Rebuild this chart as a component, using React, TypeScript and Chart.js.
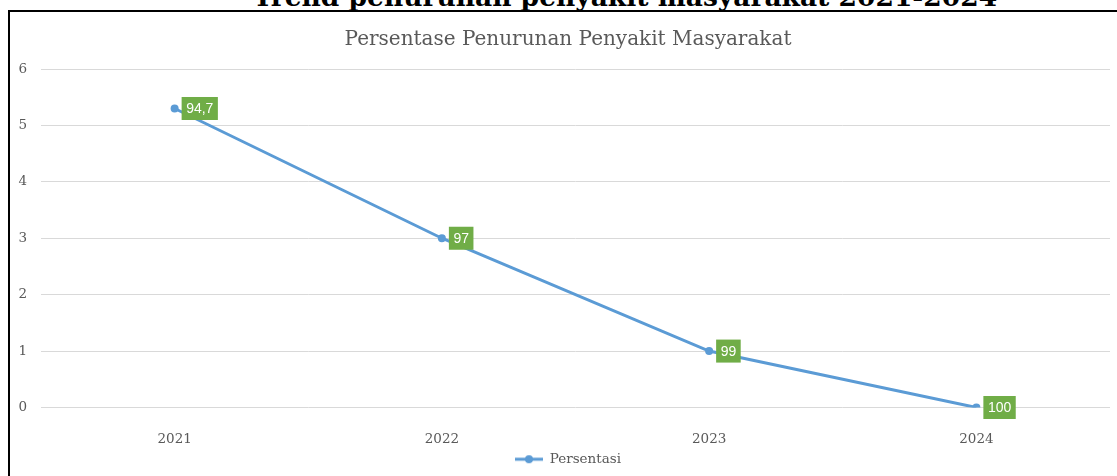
import React, { useEffect, useRef } from "react";
import { Chart, registerables } from "chart.js";

Chart.register(...registerables);

const categories = ["2021", "2022", "2023", "2024"];
const seriesValues = [5.3, 3, 1, 0];
const pointLabels = ["94,7", "97", "99", "100"];
const yTicks = [0, 1, 2, 3, 4, 5, 6];

const labelBoxPlugin = {
  id: "labelBoxes",
  afterDatasetsDraw(chart: any) {
    const ctx = chart.ctx;
    const meta = chart.getDatasetMeta(0);
    ctx.save();
    ctx.font = "14px 'Liberation Sans', Arial, sans-serif";
    ctx.textBaseline = "middle";
    ctx.textAlign = "left";
    meta.data.forEach((pt: any, i: number) => {
      const text = pointLabels[i];
      const w = ctx.measureText(text).width + 9;
      const h = 23;
      const x = pt.x + 7;
      const y = pt.y - h / 2;
      ctx.fillStyle = "#70AD47";
      ctx.fillRect(x, y, w, h);
      ctx.fillStyle = "#ffffff";
      ctx.fillText(text, x + 4.5, pt.y + 1);
    });
    ctx.restore();
  },
};

function makeLegendSymbol(): HTMLCanvasElement {
  const c = document.createElement("canvas");
  c.width = 28;
  c.height = 10;
  const g = c.getContext("2d")!;
  g.strokeStyle = "#5B9BD5";
  g.lineWidth = 3;
  g.beginPath();
  g.moveTo(0, 5);
  g.lineTo(28, 5);
  g.stroke();
  g.fillStyle = "#5B9BD5";
  g.beginPath();
  g.arc(14, 5, 4, 0, Math.PI * 2);
  g.fill();
  return c;
}

export default function App() {
  const ref = useRef<HTMLCanvasElement | null>(null);

  useEffect(() => {
    if (!ref.current) return;
    const symbol = makeLegendSymbol();
    const chart = new Chart(ref.current, {
      type: "line",
      data: {
        labels: categories,
        datasets: [
          {
            label: "Persentasi",
            data: seriesValues,
            borderColor: "#5B9BD5",
            backgroundColor: "#5B9BD5",
            borderWidth: 3,
            pointRadius: 4,
            pointStyle: "circle",
            pointBackgroundColor: "#5B9BD5",
            pointBorderColor: "#5B9BD5",
            pointBorderWidth: 0,
            tension: 0,
            yAxisID: "y",
          },
        ],
      },
      options: {
        animation: false,
        responsive: false,
        maintainAspectRatio: false,
        layout: { padding: 0 },
        plugins: {
          title: {
            display: true,
            text: "Persentase Penurunan Penyakit Masyarakat",
            color: "#595959",
            font: { family: "'DejaVu Serif', serif", size: 20, weight: "normal" },
            padding: { top: 16, bottom: 17 },
          },
          legend: {
            display: true,
            position: "bottom",
            labels: {
              color: "#595959",
              font: { family: "'DejaVu Serif', serif", size: 13.5 },
              usePointStyle: true,
              pointStyleWidth: 28,
              boxWidth: 28,
              padding: 9,
              generateLabels: () => [
                {
                  text: "Persentasi",
                  pointStyle: symbol as any,
                  fillStyle: "#5B9BD5",
                  strokeStyle: "#5B9BD5",
                  lineWidth: 0,
                  hidden: false,
                  datasetIndex: 0,
                  fontColor: "#595959",
                } as any,
              ],
            },
          },
          tooltip: { enabled: false },
        },
        scales: {
          x: {
            offset: true,
            grid: { display: false },
            border: { display: false },
            ticks: {
              color: "#595959",
              font: { family: "'DejaVu Serif', serif", size: 13.5 },
              padding: 16,
              maxRotation: 0,
            },
            afterFit(scale: any) {
              scale.height = 36;
            },
          },
          y: {
            min: 0,
            max: 6,
            afterBuildTicks(scale: any) {
              scale.ticks = yTicks.map((v) => ({ value: v }));
            },
            grid: { color: "#d9d9d9", drawTicks: false, lineWidth: 1 },
            border: { display: false },
            ticks: {
              color: "#595959",
              font: { family: "'DejaVu Serif', serif", size: 13.5 },
              padding: 14,
            },
            afterFit(scale: any) {
              scale.width = 31;
            },
          },
          yRightSpace: {
            position: "right",
            min: 0,
            max: 6,
            grid: { display: false, drawTicks: false },
            border: { display: false },
            ticks: { display: false },
            afterFit(scale: any) {
              scale.width = 16;
            },
          },
        },
      },
      plugins: [labelBoxPlugin],
    });
    return () => chart.destroy();
  }, []);

  return (
    <div style={{ position: "absolute", left: 0, top: 0, width: 1117, height: 476, overflow: "hidden", background: "#fff" }}>
      <div
        style={{
          position: "absolute",
          left: 0,
          width: 1250,
          top: -18,
          textAlign: "center",
          fontFamily: "'DejaVu Serif', serif",
          fontWeight: "bold",
          fontSize: 26.5,
          lineHeight: "30px",
          color: "#000",
          whiteSpace: "nowrap",
        }}
      >
        Trend penurunan penyakit masyarakat 2021-2024
      </div>
      <div
        style={{
          position: "absolute",
          left: 8,
          top: 10,
          width: 1130,
          height: 480,
          borderLeft: "2px solid #000",
          borderTop: "2px solid #000",
          background: "#fff",
        }}
      >
        <canvas ref={ref} width={1116} height={464} style={{ position: "absolute", left: 0, top: 0, width: 1116, height: 464 }} />
      </div>
    </div>
  );
}
